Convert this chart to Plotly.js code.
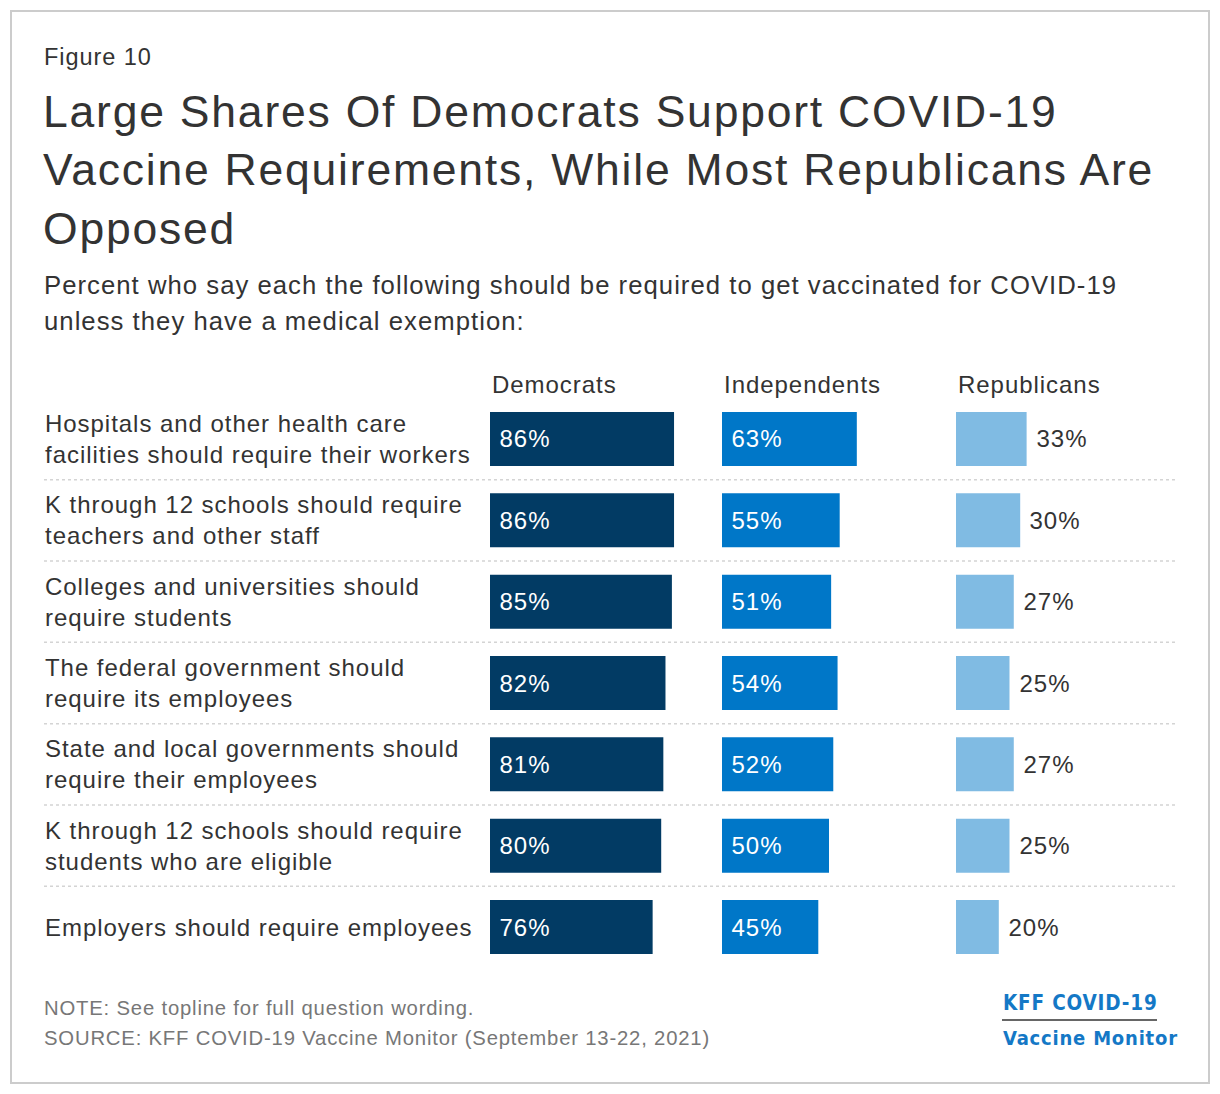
<!DOCTYPE html>
<html>
<head>
<meta charset="utf-8">
<script src="https://cdn.plot.ly/plotly-3.0.1.min.js"></script>
<style>
html,body{margin:0;padding:0;background:#fff;}
#chart{width:1220px;height:1094px;}
#chart .annotation-text{letter-spacing:0.04em;}
</style>
</head>
<body>
<div id="chart"></div>
<script>
// ---- data ----
const categories = [
  "Hospitals and other health care<br>facilities should require their workers",
  "K through 12 schools should require<br>teachers and other staff",
  "Colleges and universities should<br>require students",
  "The federal government should<br>require its employees",
  "State and local governments should<br>require their employees",
  "K through 12 schools should require<br>students who are eligible",
  "Employers should require employees"
];
const groups = ["Democrats", "Independents", "Republicans"];
const democrats    = [86, 86, 85, 82, 81, 80, 76];
const independents = [63, 55, 51, 54, 52, 50, 45];
const republicans  = [33, 30, 27, 25, 27, 25, 20];

// ---- layout helpers ----
const W = 1220, H = 1094;
const px = x => x / W;
const py = y => 1 - y / H;
const FONT = "Liberation Sans, Arial, sans-serif";
const TXT = "#333333";

const series = [democrats, independents, republicans];
const colors = ["#023b64", "#0077c8", "#80bbe3"];
const axisIds = ["x", "x2", "x3"];
const domains = [[490, 704], [722, 936], [956, 1170]];

const traces = series.map((vals, k) => ({
  type: "bar",
  orientation: "h",
  x: vals,
  y: categories,
  xaxis: axisIds[k],
  yaxis: "y",
  marker: {color: colors[k]},
  width: 0.664,
  hoverinfo: "skip",
  showlegend: false
}));

const annotations = [];
function note(x, y, text, size, color, extra) {
  annotations.push(Object.assign({xref:"paper", yref:"paper", x:px(x), y:py(y), xanchor:"left", yanchor:"middle",
    align:"left", text:text, showarrow:false, font:{family:FONT, size:size, color:color}}, extra || {}));
}
// Header
note(42, 57, "Figure 10", 23.5, TXT);
const titleLines = ["Large Shares Of Democrats Support COVID-19", "Vaccine Requirements, While Most Republicans Are", "Opposed"];
titleLines.forEach((t, i) => note(41, 111 + i * 58.5, t, 44.5, TXT));
const subLines = ["Percent who say each the following should be required to get vaccinated for COVID-19", "unless they have a medical exemption:"];
subLines.forEach((t, i) => note(42, 285 + i * 36, t, 25.7, TXT));
// Group headers
groups.forEach((g, k) => note(domains[k][0], 384, g, 24, TXT));
// Category labels
categories.forEach(c => {
  annotations.push({xref:"paper", yref:"y", x:px(43), y:c, xanchor:"left", yanchor:"middle", align:"left",
    text:c, showarrow:false, font:{family:FONT, size:24, color:TXT}});
});
// Value labels
series.forEach((vals, k) => {
  vals.forEach((v, i) => {
    const inside = k < 2;
    annotations.push({xref:axisIds[k], yref:"y", x: inside ? 0 : v, y:categories[i],
      xanchor:"left", yanchor:"middle", xshift:9, text:v + "%", showarrow:false,
      font:{family:FONT, size:24, color: inside ? "#ffffff" : TXT}});
  });
});
// Footnotes
note(42, 1008, "NOTE: See topline for full question wording.", 20.3, "#777777");
note(42, 1038, "SOURCE: KFF COVID-19 Vaccine Monitor (September 13-22, 2021)", 20.3, "#777777");
// Logo
const LOGO = "DejaVu Sans Condensed, Liberation Sans Narrow, sans-serif";
note(1001, 1003, "<b>KFF COVID-19</b>", 20.5, "#1478c6", {font:{family:LOGO, size:20.5, color:"#1478c6"}});
note(1001, 1038, "<b>Vaccine Monitor</b>", 20, "#1478c6", {font:{family:LOGO, size:20, color:"#1478c6"}});

const shapes = [];
// frame
shapes.push({type:"rect", xref:"paper", yref:"paper", x0:px(11), x1:px(1209), y0:py(11), y1:py(1083),
  line:{color:"#cccccc", width:2}, fillcolor:"rgba(0,0,0,0)", layer:"below"});
// separators
for (let i = 0; i < categories.length - 1; i++) {
  shapes.push({type:"line", xref:"paper", yref:"y", x0:px(44), x1:px(1176), y0:i + 0.5, y1:i + 0.5,
    line:{color:"#d4d4d4", width:1.5, dash:"dot"}, layer:"below"});
}
// logo rule
shapes.push({type:"line", xref:"paper", yref:"paper", x0:px(1002), x1:px(1157), y0:py(1020), y1:py(1020),
  line:{color:"#333333", width:1.5}});

const xaxisBase = {range:[0, 100], showgrid:false, zeroline:false, showticklabels:false, showline:false, ticks:"", fixedrange:true, anchor:"y"};
const layout = {
  width: W, height: H,
  margin: {l:0, r:0, t:0, b:0},
  paper_bgcolor: "#ffffff",
  plot_bgcolor: "rgba(0,0,0,0)",
  font: {family: FONT, color: TXT},
  xaxis:  Object.assign({}, xaxisBase, {domain:[px(domains[0][0]), px(domains[0][1])]}),
  xaxis2: Object.assign({}, xaxisBase, {domain:[px(domains[1][0]), px(domains[1][1])]}),
  xaxis3: Object.assign({}, xaxisBase, {domain:[px(domains[2][0]), px(domains[2][1])]}),
  yaxis: {type:"category", domain:[py(967.7), py(398.3)], range:[categories.length - 0.5, -0.5],
    showgrid:false, zeroline:false, showticklabels:false, showline:false, ticks:"", fixedrange:true},
  annotations: annotations,
  shapes: shapes
};

Plotly.newPlot("chart", traces, layout, {displayModeBar:false, staticPlot:true});
</script>
</body>
</html>
